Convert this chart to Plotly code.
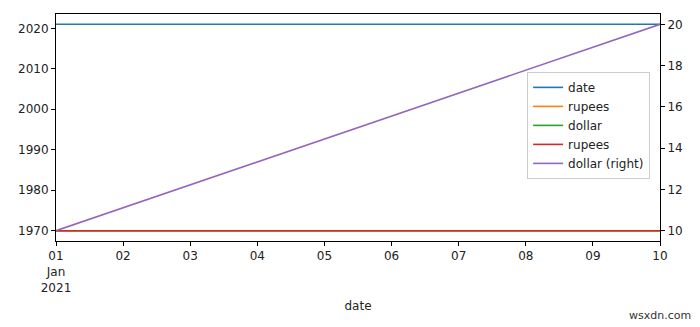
import plotly.graph_objects as go

dates = ["2021-01-01", "2021-01-02", "2021-01-03", "2021-01-04", "2021-01-05",
         "2021-01-06", "2021-01-07", "2021-01-08", "2021-01-09", "2021-01-10"]
date_vals = [2021] * 10
rupees_vals = [1970] * 10
dollar_vals = [1970] * 10
rupees2_vals = [1970] * 10
dollar_right = [10, 11.11, 12.22, 13.33, 14.44, 15.56, 16.67, 17.78, 18.89, 20]
tick_text = ["01<br>Jan<br>2021", "02", "03", "04", "05", "06", "07", "08", "09", "10"]

colors = ["#1f77b4", "#ff7f0e", "#2ca02c", "#d62728", "#9467bd"]
font = dict(family="DejaVu Sans", size=12, color="#222")

fig = go.Figure()
series = [("date", date_vals, "y"), ("rupees", rupees_vals, "y"),
          ("dollar", dollar_vals, "y"), ("rupees", rupees2_vals, "y"),
          ("dollar (right)", dollar_right, "y2")]
for (name, vals, ax), c in zip(series, colors):
    fig.add_trace(go.Scatter(x=dates, y=vals, name=name, mode="lines",
                             line=dict(color=c, width=1.6), yaxis=ax))

fig.update_layout(
    width=700, height=327,
    margin=dict(l=56, r=40, t=14, b=86),
    paper_bgcolor="white", plot_bgcolor="white",
    font=font,
    showlegend=True,
    legend=dict(x=0.78, y=0.745, xanchor="left", yanchor="top",
                bordercolor="#cccccc", borderwidth=1, bgcolor="rgba(255,255,255,0.8)",
                font=dict(family="DejaVu Sans", size=12, color="#222"),
                tracegroupgap=0, itemwidth=30),
    xaxis=dict(type="date", range=["2021-01-01", "2021-01-10"],
               tickvals=dates, ticktext=tick_text, ticks="outside", ticklen=4,
               tickcolor="black", showline=True, linecolor="black", linewidth=1,
               mirror=True, showgrid=False, zeroline=False,
               title=dict(text="date", standoff=8, font=font)),
    yaxis=dict(range=[1967.45, 2023.55], tickvals=[1970, 1980, 1990, 2000, 2010, 2020],
               ticks="outside", ticklen=4, tickcolor="black", showline=True,
               linecolor="black", linewidth=1, mirror=True, showgrid=False, zeroline=False),
    yaxis2=dict(range=[9.5, 20.5], tickvals=[10, 12, 14, 16, 18, 20], overlaying="y",
                side="right", ticks="outside", ticklen=4, tickcolor="black",
                showline=False, showgrid=False, zeroline=False),
)
fig.add_annotation(text="wsxdn.com", xref="paper", yref="paper", x=0.945, y=-0.33,
                   xanchor="left", yanchor="middle", showarrow=False,
                   font=dict(family="DejaVu Sans", size=11, color="#333"))
fig.write_html("out.html")
